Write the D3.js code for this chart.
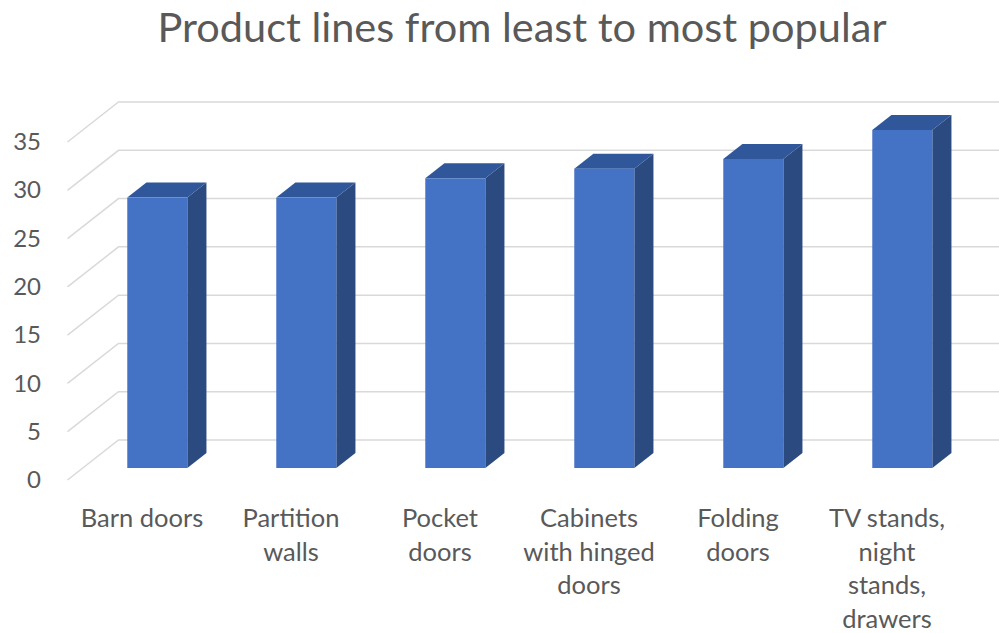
<!DOCTYPE html>
<html>
<head>
<meta charset="utf-8">
<script src="https://cdn.jsdelivr.net/npm/d3@7/dist/d3.min.js"></script>
<style>
  html, body { margin: 0; padding: 0; background: #ffffff; }
  svg { display: block; }
  text { font-family: Lato, "Open Sans", "Liberation Sans", sans-serif; fill: #595959; }
</style>
</head>
<body>
<svg id="chart" width="999" height="633"></svg>
<script>
// ---- data ----
const title = "Product lines from least to most popular";
const categories = [
  "Barn doors",
  "Partition\nwalls",
  "Pocket\ndoors",
  "Cabinets\nwith hinged\ndoors",
  "Folding\ndoors",
  "TV stands,\nnight\nstands,\ndrawers"
];
const values = [28, 28, 30, 31, 32, 35];
const yTicks = [0, 5, 10, 15, 20, 25, 30, 35];

// ---- layout ----
const svg = d3.select("#chart");

const frontLeft = 67.5, frontRight = 961.5;
const depthX = 51, depthY = -40;       // full depth offset of the back wall
const barFrontT = 0.3, barBackT = 0.675; // bar depth position (fraction of full depth)

const x = d3.scaleBand()
  .domain(categories)
  .range([frontLeft, frontRight])
  .paddingInner(0.597)
  .paddingOuter(0.2985);

const y = d3.scaleLinear().domain([0, 35]).range([480, 142]);

// ---- gridlines (floor diagonal + back wall) ----
const grid = svg.append("g").attr("class", "grid");
yTicks.forEach(v => {
  const yf = y(v);
  grid.append("path")
    .attr("d", `M${frontLeft},${yf} L${frontLeft + depthX},${yf + depthY} L${frontRight + depthX},${yf + depthY}`)
    .attr("fill", "none")
    .attr("stroke", "#d9d9d9")
    .attr("stroke-width", 1.5);
});

// ---- y axis labels ----
const yAxis = d3.axisLeft(y).tickValues(yTicks).tickSize(0).tickPadding(0);
const yg = svg.append("g")
  .attr("transform", `translate(41,0)`)
  .call(yAxis);
yg.select(".domain").remove();
yg.selectAll("text")
  .attr("fill", "#595959")
  .style("font-size", "24px")
  .style("font-family", "Lato, 'Open Sans', sans-serif");

// ---- bars ----
const bars = svg.append("g").attr("class", "bars");
const dxF = depthX * barFrontT, dyF = depthY * barFrontT;
const dxB = depthX * barBackT, dyB = depthY * barBackT;

categories.forEach((c, i) => {
  const v = values[i];
  const x0 = x(c) + dxF, x1 = x(c) + x.bandwidth() + dxF;
  const yb = y(0) + dyF, yt = y(v) + dyF;
  const ox = dxB - dxF, oy = dyB - dyF;
  const g = bars.append("g");
  g.append("path")
    .attr("d", `M${x1},${yb} L${x1 + ox},${yb + oy} L${x1 + ox},${yt + oy} L${x1},${yt} Z`)
    .attr("fill", "#2a4a80");
  g.append("path")
    .attr("d", `M${x0},${yt} L${x0 + ox},${yt + oy} L${x1 + ox},${yt + oy} L${x1},${yt} Z`)
    .attr("fill", "#30579a");
  g.append("rect")
    .attr("x", x0).attr("y", yt)
    .attr("width", x1 - x0).attr("height", yb - yt)
    .attr("fill", "#4472c4");
});

// ---- category labels ----
const xg = svg.append("g").attr("class", "xlabels");
categories.forEach(c => {
  const lines = c.split("\n");
  const t = xg.append("text")
    .attr("text-anchor", "middle")
    .style("font-size", "25.5px");
  lines.forEach((ln, k) => {
    t.append("tspan")
      .attr("x", x(c) + x.bandwidth() / 2)
      .attr("y", 527 + k * 33.7)
      .text(ln);
  });
});

// ---- title ----
svg.append("text")
  .attr("x", 522)
  .attr("y", 42)
  .attr("text-anchor", "middle")
  .style("font-size", "41.5px")
  .text(title);
</script>
</body>
</html>
